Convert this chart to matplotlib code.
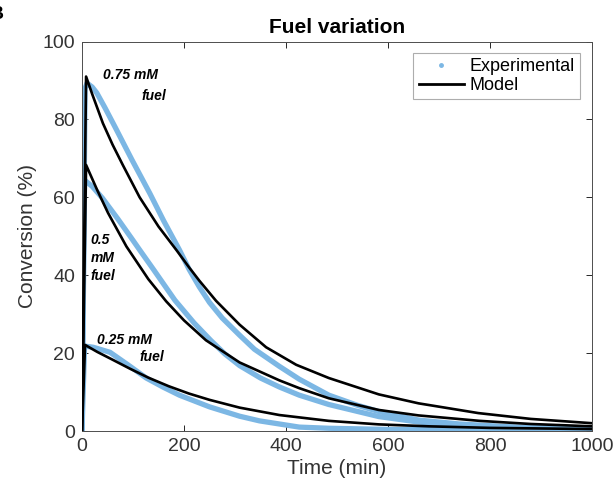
import matplotlib
matplotlib.use("Agg")
import matplotlib.pyplot as plt
from matplotlib.lines import Line2D

plt.rcParams['font.family'] = ['Liberation Sans', 'DejaVu Sans']

# ---- data ----
# Experimental (blue)
exp_t_075 = [0, 6, 10, 20, 29, 45, 65, 98, 133, 160, 191, 210, 230, 250, 275, 309, 338, 387, 426, 484, 540, 582, 660, 740, 850, 1000]
exp_c_075 = [0, 88, 89.3, 88.3, 86.8, 83, 78, 69.6, 61, 54, 46.5, 41.5, 37.0, 33.0, 29.0, 24.6, 21.0, 16.6, 13.3, 9.2, 6.6, 5.0, 2.8, 1.8, 1.0, 0.7]

exp_t_050 = [0, 5, 20, 40, 70, 97, 113, 140, 182, 220, 253, 280, 309, 350, 387, 426, 484, 582, 660, 750, 850, 1000]
exp_c_050 = [0, 64.4, 62.8, 59.8, 54.5, 49.5, 46.5, 41.5, 33.6, 27.7, 23.2, 19.8, 16.8, 13.6, 11.3, 9.2, 6.8, 3.7, 2.3, 1.4, 0.9, 0.6]

exp_t_025 = [0, 5, 22, 55, 90, 126, 160, 191, 250, 309, 348, 426, 484, 600, 800, 1000]
exp_c_025 = [0, 21.8, 21.5, 20.2, 17.0, 13.6, 11.2, 9.2, 6.2, 3.8, 2.6, 1.0, 0.7, 0.4, 0.3, 0.2]

# Model (black)
mod_t_075 = [0, 8, 20, 41, 60, 80, 113, 150, 186, 210, 230, 263, 309, 361, 420, 484, 582, 660, 777, 880, 1000]
mod_c_075 = [0, 91, 86.5, 79, 73.5, 68.3, 60, 52.5, 46.3, 42.0, 38.6, 33.4, 27.3, 21.5, 17.0, 13.6, 9.4, 7.1, 4.6, 3.1, 2.0]

mod_t_050 = [0, 8, 30, 51, 87, 130, 165, 200, 243, 309, 387, 426, 484, 582, 660, 780, 880, 1000]
mod_c_050 = [0, 68.3, 61.8, 56.0, 47.4, 39.0, 33.3, 28.4, 23.3, 17.6, 13.0, 11.0, 8.4, 5.4, 4.0, 2.6, 1.8, 1.2]

mod_t_025 = [0, 6, 30, 60, 94, 130, 170, 210, 250, 309, 387, 484, 582, 680, 800, 1000]
mod_c_025 = [0, 22.1, 20.3, 18.3, 16.0, 13.7, 11.5, 9.6, 8.0, 6.0, 4.1, 2.6, 1.7, 1.2, 0.8, 0.5]

x_ticks = [0, 200, 400, 600, 800, 1000]
y_ticks = [0, 20, 40, 60, 80, 100]

blue = '#7cb7e4'
frame = '#262626'

fig = plt.figure(figsize=(6.15, 4.93), dpi=100)
ax = fig.add_axes([82/615, 1-431/493, 510/615, 389.5/493])

for t, c in [(exp_t_075, exp_c_075), (exp_t_050, exp_c_050), (exp_t_025, exp_c_025)]:
    ax.plot(t, c, color=blue, lw=3.8, solid_capstyle='round', solid_joinstyle='round', zorder=2)
for t, c in [(mod_t_075, mod_c_075), (mod_t_050, mod_c_050), (mod_t_025, mod_c_025)]:
    ax.plot(t, c, color='black', lw=1.9, solid_joinstyle='round', zorder=3)

ax.set_xlim(0, 1000)
ax.set_ylim(0, 100)
ax.set_xticks(x_ticks)
ax.set_yticks(y_ticks)
ax.tick_params(direction='in', length=4, width=0.7, colors=frame, labelsize=14,
               top=True, right=True, pad=5)
for lab in ax.get_xticklabels() + ax.get_yticklabels():
    lab.set_color('#333333')
for s in ax.spines.values():
    s.set_color('#4d4d4d')
    s.set_linewidth(0.7)

ax.set_xlabel('Time (min)', fontsize=15, color='#333333', labelpad=3)
ax.set_ylabel('Conversion (%)', fontsize=15, color='#333333', labelpad=4)
ax.set_title('Fuel variation', fontsize=15, fontweight='bold', pad=6)

tfont = dict(fontsize=10, fontweight='bold', fontstyle='italic', color='black')
ax.text(41, 91.4, '0.75 mM', va='center', ha='left', **tfont)
ax.text(117, 86.0, 'fuel', va='center', ha='left', **tfont)
ax.text(17, 49.0, '0.5', va='center', ha='left', **tfont)
ax.text(17, 44.4, 'mM', va='center', ha='left', **tfont)
ax.text(17, 39.8, 'fuel', va='center', ha='left', **tfont)
ax.text(29, 23.4, '0.25 mM', va='center', ha='left', **tfont)
ax.text(113, 19.1, 'fuel', va='center', ha='left', **tfont)

handles = [Line2D([], [], color=blue, marker='.', ls='none', markersize=5),
           Line2D([], [], color='black', lw=2)]
leg = ax.legend(handles, ['Experimental', 'Model'], loc='upper right',
                bbox_to_anchor=(0.976, 0.971), borderaxespad=0, fontsize=13,
                frameon=True, fancybox=False, edgecolor='#999999',
                handlelength=2.5, handletextpad=0.3, borderpad=0.3,
                labelspacing=0.1)
leg.get_frame().set_linewidth(0.8)

fig.text(-0.016, 0.988, 'B', fontsize=14, fontweight='bold', va='top', ha='left')

fig.savefig('out.png', dpi=100)
